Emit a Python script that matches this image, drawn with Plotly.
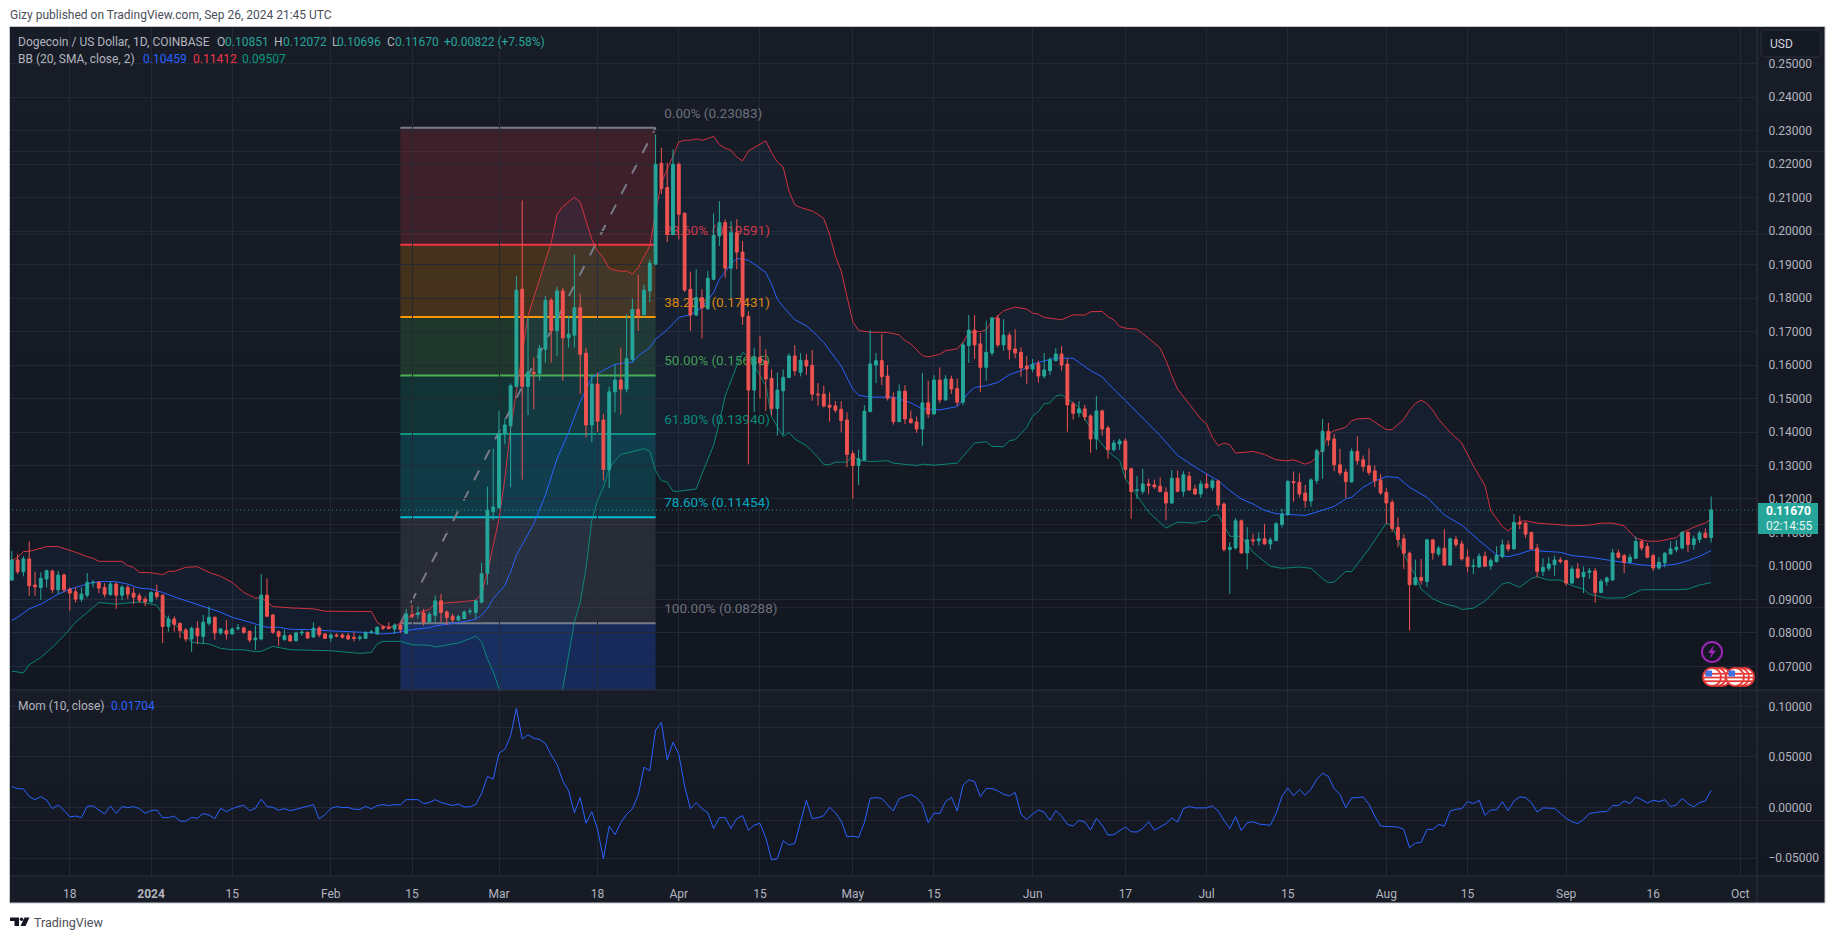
import math
import pandas as pd
import plotly.graph_objects as go

W, H = 1835, 939

# ---------- data ----------
start_date = "2023-12-08"
open_ = [.0958,.1018,.0983,.1021,.0943,.0936,.0961,.0985,.0929,.0973,
.0931,.0923,.0901,.0913,.0950,.0951,.0936,.0915,.0946,.0913,
.0936,.0919,.0911,.0901,.0893,.0921,.0913,.0819,.0842,.0829,
.0809,.0782,.0814,.0790,.0829,.0847,.0800,.0807,.0797,.0814,
.0815,.0805,.0780,.0782,.0913,.0854,.0804,.0780,.0792,.0777,
.0800,.0802,.0788,.0815,.0797,.0785,.0794,.0794,.0792,.0787,
.0784,.0784,.0801,.0797,.0818,.0817,.0812,.0824,.0799,.0854,
.0855,.0860,.0833,.0853,.0896,.0863,.0850,.0839,.0843,.0864,
.0861,.0892,.0978,.1163,.1174,.1396,.1419,.1536,.1826,.1536,
.1578,.1575,.1647,.1793,.1702,.1821,.1681,.1689,.1771,.1635,
.1421,.1543,.1436,.1287,.1520,.1555,.1528,.1617,.1766,.1751,
.1821,.1901,.2202,.2130,.1990,.2199,.2053,.1826,.1749,.1801,
.1768,.1856,.1985,.2025,.1889,.1995,.1937,.1745,.1525,.1622,
.1612,.1560,.1470,.1523,.1563,.1627,.1578,.1614,.1599,.1513,
.1513,.1480,.1478,.1468,.1436,.1335,.1300,.1316,.1461,.1600,
.1613,.1567,.1502,.1431,.1522,.1439,.1430,.1409,.1487,.1454,
.1555,.1496,.1558,.1530,.1489,.1658,.1704,.1663,.1593,.1636,
.1740,.1660,.1689,.1648,.1638,.1597,.1588,.1604,.1567,.1583,
.1613,.1633,.1603,.1484,.1457,.1469,.1448,.1379,.1463,.1412,
.1347,.1364,.1373,.1290,.1225,.1223,.1245,.1242,.1238,.1220,
.1188,.1262,.1223,.1268,.1230,.1215,.1245,.1234,.1254,.1185,
.1049,.1054,.1135,.1039,.1078,.1075,.1081,.1066,.1076,.1124,
.1153,.1252,.1250,.1218,.1194,.1255,.1342,.1402,.1379,.1302,
.1280,.1251,.1342,.1317,.1299,.1284,.1256,.1220,.1190,.1115,
.1081,.1038,.0944,.0966,.0954,.1078,.1036,.1053,.1003,.1079,
.1066,.1026,.0999,.0997,.1029,.1000,.1013,.1028,.1063,.1051,
.1130,.1128,.1100,.1053,.0984,.0993,.1004,.1018,.1016,.0949,
.0991,.0968,.0981,.0985,.0921,.0953,.0958,.1039,.1031,.1011,
.1023,.1073,.1058,.1031,.0994,.1009,.1036,.1049,.1054,.1100,
.1064,.1079,.1098,.10851]
high = [.1045,.1035,.1029,.1073,.0983,.0981,.0989,.0989,.0986,.0978,
.0936,.0936,.0936,.0979,.0958,.0955,.0949,.0953,.0951,.0943,
.0943,.0936,.0919,.0909,.0924,.0944,.0915,.0852,.0850,.0829,
.0815,.0819,.0835,.0854,.0879,.0849,.0814,.0839,.0817,.0827,
.0819,.0807,.0822,.0976,.0963,.0857,.0807,.0810,.0797,.0804,
.0810,.0804,.0832,.0820,.0800,.0800,.0799,.0799,.0800,.0802,
.0794,.0804,.0809,.0820,.0824,.0832,.0829,.0828,.0872,.0884,
.0880,.0872,.0863,.0912,.0917,.0867,.0857,.0855,.0867,.0873,
.0900,.1010,.1237,.1350,.1464,.1440,.1545,.1866,.2091,.1742,
.1622,.1660,.1806,.1800,.1833,.1830,.1747,.1930,.1813,.1652,
.1573,.1577,.1454,.1535,.1602,.1652,.1752,.1799,.1869,.1840,
.1915,.2288,.2249,.2204,.2244,.2205,.2055,.1878,.1886,.1826,
.1881,.2052,.2089,.2035,.2030,.2035,.1970,.1760,.1652,.1687,
.1647,.1587,.1577,.1587,.1635,.1659,.1635,.1633,.1645,.1546,
.1538,.1518,.1492,.1492,.1459,.1345,.1347,.1480,.1704,.1636,
.1692,.1600,.1518,.1542,.1540,.1464,.1446,.1576,.1553,.1570,
.1593,.1570,.1568,.1560,.1668,.1749,.1749,.1695,.1732,.1744,
.1749,.1737,.1697,.1707,.1653,.1626,.1618,.1613,.1636,.1623,
.1650,.1656,.1620,.1491,.1492,.1481,.1453,.1508,.1467,.1419,
.1376,.1379,.1381,.1294,.1268,.1290,.1260,.1258,.1265,.1235,
.1287,.1285,.1283,.1281,.1242,.1255,.1275,.1260,.1257,.1190,
.1071,.1143,.1139,.1116,.1096,.1100,.1126,.1086,.1131,.1171,
.1257,.1282,.1277,.1242,.1262,.1350,.1439,.1427,.1394,.1350,
.1290,.1351,.1387,.1330,.1351,.1300,.1274,.1232,.1198,.1145,
.1095,.1043,.1019,.1021,.1081,.1081,.1060,.1110,.1085,.1090,
.1076,.1050,.1021,.1038,.1043,.1023,.1059,.1079,.1076,.1155,
.1150,.1132,.1103,.1066,.1023,.1026,.1031,.1026,.1018,.1001,
.1009,.0998,.0994,.0994,.0961,.0969,.1051,.1049,.1036,.1036,
.1088,.1078,.1069,.1036,.1026,.1041,.1073,.1078,.1105,.1105,
.1091,.1105,.1112,.12072]
low = [.0955,.0976,.0969,.0911,.0911,.0899,.0936,.0919,.0916,.0921,
.0867,.0891,.0893,.0906,.0936,.0919,.0906,.0911,.0872,.0898,
.0901,.0886,.0889,.0880,.0891,.0901,.0770,.0804,.0804,.0784,
.0774,.0744,.0767,.0767,.0822,.0780,.0794,.0780,.0797,.0807,
.0797,.0772,.0750,.0778,.0847,.0797,.0762,.0777,.0774,.0774,
.0792,.0782,.0786,.0787,.0782,.0774,.0787,.0784,.0780,.0774,
.0777,.0782,.0797,.0795,.0809,.0810,.0797,.0800,.0797,.0843,
.0843,.0822,.0831,.0833,.0833,.0823,.0831,.0835,.0841,.0855,
.0843,.0888,.0944,.1136,.1170,.1363,.1235,.1534,.1258,.1450,
.1468,.1553,.1607,.1607,.1627,.1553,.1652,.1652,.1513,.1384,
.1370,.1399,.1255,.1232,.1458,.1453,.1518,.1609,.1702,.1742,
.1788,.1898,.2110,.1967,.1987,.1975,.1818,.1702,.1745,.1679,
.1765,.1853,.1955,.1861,.1799,.1886,.1720,.1303,.1459,.1500,
.1463,.1449,.1389,.1391,.1560,.1568,.1566,.1570,.1493,.1478,
.1473,.1431,.1458,.1399,.1295,.1201,.1242,.1314,.1459,.1546,
.1540,.1494,.1422,.1429,.1424,.1425,.1397,.1359,.1442,.1452,
.1487,.1493,.1514,.1477,.1480,.1606,.1618,.1520,.1553,.1628,
.1653,.1643,.1616,.1620,.1565,.1543,.1578,.1548,.1560,.1570,
.1611,.1583,.1401,.1437,.1444,.1434,.1338,.1347,.1389,.1320,
.1342,.1347,.1260,.1141,.1200,.1215,.1215,.1230,.1220,.1136,
.1186,.1220,.1207,.1224,.1212,.1204,.1230,.1225,.1168,.1043,
.0917,.1049,.1036,.0990,.1061,.1061,.1064,.1049,.1074,.1115,
.1149,.1192,.1205,.1174,.1177,.1245,.1260,.1359,.1283,.1270,
.1202,.1249,.1302,.1282,.1271,.1235,.1212,.1125,.1102,.1056,
.0991,.0807,.0942,.0944,.0938,.1019,.1029,.1000,.1000,.1056,
.1016,.0981,.0976,.0995,.0997,.0989,.1011,.1023,.1043,.1050,
.1110,.1083,.1049,.0966,.0970,.0985,.0971,.1008,.0941,.0946,
.0962,.0919,.0962,.0890,.0919,.0941,.0956,.1023,.0979,.1009,
.1021,.1046,.1023,.0986,.0989,.0996,.1035,.1041,.1049,.1041,
.1049,.1069,.1083,.10696]
close = [.1018,.0983,.1021,.0941,.0938,.0963,.0986,.0929,.0973,.0929,
.0919,.0901,.0916,.0951,.0951,.0934,.0916,.0946,.0913,.0937,
.0916,.0907,.0898,.0893,.0921,.0909,.0819,.0842,.0826,.0807,
.0782,.0814,.0792,.0832,.0847,.0800,.0812,.0797,.0812,.0815,
.0802,.0779,.0785,.0913,.0850,.0802,.0790,.0792,.0776,.0800,
.0802,.0785,.0814,.0795,.0784,.0794,.0791,.0787,.0782,.0784,
.0787,.0802,.0803,.0817,.0815,.0814,.0824,.0810,.0857,.0850,
.0860,.0833,.0856,.0896,.0861,.0846,.0839,.0849,.0863,.0865,
.0896,.0977,.1166,.1176,.1396,.1421,.1538,.1823,.1536,.1578,
.1575,.1649,.1793,.1702,.1821,.1681,.1692,.1771,.1632,.1421,
.1543,.1432,.1288,.1520,.1555,.1528,.1619,.1766,.1748,.1823,
.1904,.2199,.2127,.1990,.2199,.2050,.1824,.1749,.1801,.1771,
.1859,.1987,.2025,.1889,.1995,.1937,.1745,.1525,.1622,.1607,
.1558,.1470,.1525,.1563,.1627,.1583,.1614,.1597,.1513,.1511,
.1478,.1474,.1465,.1434,.1333,.1300,.1320,.1462,.1603,.1613,
.1565,.1501,.1431,.1522,.1439,.1428,.1409,.1487,.1454,.1555,
.1496,.1558,.1528,.1489,.1660,.1704,.1660,.1593,.1638,.1740,
.1660,.1689,.1646,.1636,.1591,.1588,.1602,.1567,.1585,.1616,
.1633,.1600,.1481,.1456,.1469,.1445,.1379,.1463,.1409,.1347,
.1367,.1373,.1288,.1222,.1227,.1245,.1240,.1236,.1222,.1188,
.1262,.1223,.1272,.1227,.1215,.1245,.1234,.1254,.1182,.1049,
.1056,.1135,.1039,.1078,.1075,.1081,.1066,.1078,.1126,.1155,
.1252,.1249,.1215,.1195,.1257,.1344,.1402,.1376,.1302,.1278,
.1252,.1342,.1314,.1297,.1279,.1254,.1218,.1188,.1112,.1079,
.1038,.0944,.0966,.0956,.1078,.1039,.1053,.1003,.1081,.1064,
.1021,.0999,.1001,.1029,.0999,.1016,.1031,.1063,.1051,.1130,
.1125,.1095,.1051,.0984,.0996,.1006,.1018,.1013,.0949,.0991,
.0966,.0981,.0985,.0921,.0954,.0964,.1039,.1026,.1011,.1026,
.1073,.1054,.1026,.0994,.1011,.1038,.1051,.1056,.1100,.1064,
.1081,.1098,.10848,.11670]

momentum = [.0208,.0188,.0185,.0109,.0079,.0109,.0073,-.0010,.0026,-.0026,
-.0092,-.0083,-.0099,.0013,.0017,-.0026,-.0063,.0017,-.0056,.0010,
0,.0010,-.0010,-.0056,-.0030,-.0023,-.0099,-.0099,-.0083,-.0132,
-.0135,-.0096,-.0106,-.0059,-.0073,-.0109,-.0007,-.0040,-.0010,.0010,
.0023,-.0030,-.0007,.0083,.0010,.0003,-.0026,-.0010,-.0030,-.0017,
-.0003,.0010,.0030,-.0112,-.0069,-.0007,.0010,0,.0003,-.0017,
-.0017,.0013,-.0013,.0020,.0030,.0020,.0030,.0026,.0079,.0079,
.0079,.0040,.0050,.0079,.0050,.0036,.0020,.0036,.0007,.0007,
.0033,.0139,.0307,.0281,.0538,.0574,.0710,.0980,.0677,.0719,
.0686,.0673,.0634,.0518,.0426,.0264,.0165,-.0050,.0099,-.0155,
-.0040,-.0215,-.0505,-.0182,-.0267,-.0149,-.0066,-.0010,.0122,.0399,
.0363,.0766,.0842,.0472,.0644,.0528,.0215,-.0010,.0050,-.0010,
-.0050,-.0208,-.0099,-.0099,-.0205,-.0109,-.0079,-.0224,-.0172,-.0155,
-.0297,-.0515,-.0505,-.0327,-.0370,-.0353,-.0132,.0073,-.0109,-.0099,
-.0079,.0003,-.0050,-.0132,-.0290,-.0281,-.0294,-.0149,.0092,.0099,
.0089,.0033,-.0033,.0089,.0109,.0129,.0099,.0033,-.0149,-.0053,
-.0059,.0059,.0102,-.0033,.0221,.0274,.0257,.0109,.0188,.0188,
.0165,.0132,.0116,.0149,-.0066,-.0116,-.0066,-.0023,-.0046,-.0125,
-.0030,-.0083,-.0165,-.0182,-.0125,-.0142,-.0221,-.0106,-.0175,-.0271,
-.0267,-.0231,-.0191,-.0238,-.0241,-.0205,-.0139,-.0224,-.0191,-.0158,
-.0102,-.0142,-.0010,.0010,-.0003,-.0003,-.0003,.0017,-.0033,-.0125,
-.0208,-.0089,-.0228,-.0149,-.0139,-.0162,-.0172,-.0175,-.0056,.0109,
.0195,.0116,.0178,.0122,.0182,.0281,.0340,.0307,.0188,.0129,
0,.0096,.0099,.0106,.0033,-.0083,-.0182,-.0185,-.0185,-.0191,
-.0215,-.0396,-.0350,-.0343,-.0215,-.0215,-.0165,-.0182,-.0033,-.0017,
-.0010,.0059,.0040,.0073,-.0076,-.0023,-.0023,.0059,-.0030,.0066,
.0106,.0099,.0050,-.0043,-.0003,-.0007,-.0007,-.0056,-.0106,-.0139,
-.0158,-.0116,-.0059,-.0050,-.0040,-.0040,.0020,.0020,.0066,.0040,
.0106,.0079,.0046,.0073,.0059,.0079,.0010,.0026,.0092,.0040,
.0007,.0050,.0066,.01704]

# Bollinger vertices: candle index and value
bb_upper_idx = [0,1,2,3,4,6,8,10,11,13,14,15,19,20,21,22,24,26,27,28,30,32,34,36,38,40,42,43,45,48,52,54,62,63,64,65,66,67,
69,72,73,78,80,81,82,83,84,85,86,89,91,93,94,95,97,98,100,101,102,103,104,105,106,107,108,109,110,111,112,114,115,116,117,118,119,120,121,122,123,124,125,126,127,128,129,130,131,132,133,134,135,136,137,138,139,140,141,142,143,144,145,146,148,
151,153,154,155,157,158,160,161,163,164,165,167,168,169,170,171,173,175,176,177,178,181,183,185,186,188,189,190,191,192,194,196,198,199,200,201,203,205,206,207,208,209,210,211,214,216,218,220,221,223,224,225,226,227,228,230,231,232,234,235,237,238,240,241,242,243,244,245,246,248,250,252,254,255,257,258,260,261,263,267,269,272,274,276,278,280,282,284,287,288,291,292,293]
bb_upper = [.1016,.1026,.1043,.1044,.1048,.1058,.1058,.1048,.1041,.1028,.1023,.1014,.1014,.1001,.0996,.0981,.0980,.0974,.0984,.0984,.0996,.0998,.0981,.0969,.0951,.0921,.0904,.0906,.0879,.0875,.0872,.0865,.0864,.0832,.0820,.0817,.0820,.0830,
.0853,.0871,.0887,.0894,.0898,.0917,.0982,.1061,.1141,.1260,.1409,.1747,.1856,.1965,.2050,.2073,.2101,.2086,.1975,.1940,.1920,.1889,.1883,.1880,.1881,.1871,.1891,.1925,.1955,.2055,.2144,.2224,.2266,.2271,.2271,.2275,.2271,.2276,.2283,.2258,.2247,.2241,.2221,.2209,.2239,.2249,.2260,.2269,.2234,.2206,.2191,.2119,.2078,.2070,.2065,.2060,.2050,.2037,.1990,.1925,.1881,.1806,.1729,.1703,.1698,
.1697,.1690,.1673,.1663,.1628,.1624,.1632,.1643,.1648,.1668,.1697,.1700,.1705,.1732,.1747,.1762,.1773,.1767,.1755,.1752,.1742,.1735,.1750,.1749,.1759,.1760,.1744,.1735,.1715,.1710,.1707,.1680,.1650,.1613,.1568,.1528,.1484,.1439,.1424,.1384,.1359,.1367,.1362,.1337,.1342,.1333,.1317,.1314,.1317,.1304,.1310,.1325,.1350,.1394,.1404,.1414,.1434,.1439,.1441,.1430,.1407,.1407,.1438,.1465,.1485,.1495,.1485,.1465,.1438,.1399,.1367,.1299,.1240,.1165,.1118,.1105,.1133,.1135,.1128,.1123,.1120,.1122,.1128,.1128,.1120,.1083,.1074,.1074,.1085,.1100,.1123,.1128,.11412]

bb_basis_idx = [0,1,3,5,7,8,10,12,14,16,18,20,22,24,26,28,30,32,34,36,38,40,42,44,46,48,52,54,62,64,66,69,72,73,77,80,81,82,83,85,86,87,90,92,94,96,98,100,102,104,106,107,108,110,111,113,115,117,119,121,122,124,125,127,128,130,131,132,133,135,137,138,140,143,145,146,
148,152,155,157,160,163,165,166,168,170,172,174,176,178,180,183,184,186,188,189,192,194,198,201,205,208,210,212,214,216,218,220,223,225,228,230,231,233,235,237,239,241,244,247,250,253,256,258,260,262,264,267,269,272,276,278,281,284,287,289,291,293]
bb_basis = [.0837,.0847,.0872,.0886,.0906,.0916,.0931,.0941,.0951,.0954,.0953,.0946,.0934,.0931,.0921,.0908,.0896,.0886,.0874,.0862,.0847,.0837,.0825,.0817,.0817,.0811,.0810,.0807,.0801,.0797,.0800,.0810,.0816,.0821,.0831,.0841,.0853,.0873,.0902,.0942,.0982,.1032,.1126,.1211,.1320,.1399,.1490,.1563,.1584,.1602,.1607,.1607,.1627,.1652,.1677,.1705,.1742,.1750,.1771,.1816,.1856,.1901,.1918,.1913,.1901,.1876,.1841,.1796,.1774,.1735,.1717,.1702,.1667,.1597,.1528,.1510,
.1504,.1504,.1487,.1469,.1466,.1476,.1518,.1533,.1538,.1548,.1571,.1583,.1603,.1613,.1621,.1620,.1608,.1583,.1565,.1545,.1494,.1459,.1389,.1330,.1285,.1255,.1225,.1200,.1185,.1166,.1156,.1154,.1151,.1161,.1178,.1200,.1205,.1235,.1254,.1267,.1264,.1235,.1205,.1152,.1122,.1076,.1033,.1028,.1036,.1048,.1044,.1041,.1031,.1026,.1016,.1011,.1003,.1000,.1006,.1016,.1029,.10459]

bb_lower_idx = [0,2,3,5,7,9,11,13,15,18,20,22,25,26,27,28,29,31,34,36,38,40,42,43,45,48,52,55,60,62,63,64,67,69,72,73,77,80,81,82,83,84,85,88,92,94,95,97,98,99,100,101,102,103,104,105,109,110,111,112,113,114,115,118,119,120,121,122,123,125,126,127,130,131,133,134,135,137,139,140,141,142,144,145,146,148,
151,152,156,157,159,163,164,166,168,169,171,172,173,175,176,177,178,179,180,181,182,184,185,187,189,191,192,194,196,199,201,204,205,206,207,208,209,210,212,214,217,219,222,224,226,227,228,230,231,234,237,238,240,242,243,245,247,249,250,252,254,257,258,260,262,263,265,267,269,271,272,275,278,280,281,287,289,291,293]
bb_lower = [.0686,.0681,.0705,.0727,.0757,.0792,.0832,.0862,.0891,.0886,.0889,.0893,.0883,.0855,.0842,.0827,.0812,.0772,.0767,.0754,.0750,.0750,.0744,.0745,.0760,.0750,.0749,.0747,.0739,.0742,.0767,.0775,.0775,.0765,.0763,.0758,.0770,.0790,.0773,.0723,.0684,.0634,.0600,.0500,.0520,.0590,.0634,.0833,.0892,.0992,.1136,.1196,.1235,.1290,.1315,.1333,.1350,.1342,.1285,.1255,.1250,.1223,.1223,.1230,.1275,.1320,.1360,.1429,.1508,.1597,.1637,.1627,.1538,.1445,.1386,.1399,.1379,.1359,.1324,.1303,.1302,.1310,.1310,.1330,.1315,.1312,
.1314,.1307,.1300,.1304,.1301,.1307,.1327,.1367,.1371,.1357,.1356,.1374,.1377,.1414,.1447,.1461,.1484,.1487,.1507,.1511,.1499,.1474,.1439,.1384,.1342,.1315,.1260,.1210,.1161,.1113,.1131,.1128,.1133,.1133,.1151,.1153,.1121,.1089,.1088,.1041,.0999,.0993,.0997,.0993,.0962,.0950,.0952,.0984,.0983,.1051,.1128,.1120,.1036,.0971,.0931,.0902,.0887,.0879,.0870,.0874,.0895,.0946,.0951,.0936,.0963,.0968,.0958,.0958,.0941,.0931,.0916,.0904,.0905,.0921,.0929,.0929,.0931,.0943,.09507]

fib_pct = ["0.00%","23.60%","38.20%","50.00%","61.80%","78.60%","100.00%"]
fib_price = [.23083,.19591,.17431,.15685,.13940,.11454,.08288]
fib_start, fib_end = "2024-02-13", "2024-03-28"

x_tick_dates = ["2023-12-18","2024-01-01","2024-01-15","2024-02-01","2024-02-15","2024-03-01","2024-03-18","2024-04-01","2024-04-15","2024-05-01","2024-05-15","2024-06-01","2024-06-17","2024-07-01","2024-07-15","2024-08-01","2024-08-15","2024-09-01","2024-09-16","2024-10-01"]
x_tick_text = ["18","<b>2024</b>","15","Feb","15","Mar","18","Apr","15","May","15","Jun","17","Jul","15","Aug","15","Sep","16","Oct"]
price_ticks = [.07,.08,.09,.10,.11,.12,.13,.14,.15,.16,.17,.18,.19,.20,.21,.22,.23,.24,.25]
mom_ticks = [-.05,0,.05,.10]
last_price = .11670
# -------------------------------------------------

for s in (open_, high, low, close, momentum):
    assert len(s) == 294, len(s)
assert len(bb_upper) == len(bb_upper_idx), (len(bb_upper), len(bb_upper_idx))
assert len(bb_basis) == len(bb_basis_idx), (len(bb_basis), len(bb_basis_idx))
assert len(bb_lower) == len(bb_lower_idx), (len(bb_lower), len(bb_lower_idx))

dates = pd.date_range(start_date, periods=len(close), freq="D")
def at(idx):
    return [dates[i] for i in idx]

FONT = "Roboto, sans-serif"
TXT = "#b2b5be"
UP, DOWN = "#26a69a", "#ef5350"
GRID = "#242833"
SEP = "#2e323e"

px = lambda x: x / W
py = lambda y: 1 - y / H

X_L, X_R = 10, 1757
MAIN_T, MAIN_B = 27, 690
MOM_B, FRAME_B = 876, 903
FRAME_R = 1825
MAIN_RANGE = [.06298, .2609]
MOM_RANGE = [-.0675, .1161]

shapes = []
def mix(t):
    a, b = (24, 28, 39), (19, 23, 34)
    return "rgb(%d,%d,%d)" % tuple(round(a[i] + (b[i] - a[i]) * t) for i in range(3))

def gradient(y0, y1, x0=X_L, x1=FRAME_R, n=16):
    for i in range(n):
        ya = y0 + (y1 - y0) * i / n
        yb = y0 + (y1 - y0) * (i + 1) / n + 0.5
        shapes.append(dict(type="rect", xref="paper", yref="paper", layer="below",
                           x0=px(x0), x1=px(x1), y0=py(ya), y1=py(yb),
                           fillcolor=mix(i / (n - 1)), line_width=0))

gradient(MAIN_T, MAIN_B)
gradient(MAIN_B, MOM_B, n=10)
shapes.append(dict(type="rect", xref="paper", yref="paper", layer="below",
                   x0=px(X_L), x1=px(FRAME_R), y0=py(MOM_B), y1=py(FRAME_B),
                   fillcolor="#171b26", line_width=0))

# fib zones
zone_fill = ["rgba(242,54,69,.18)", "rgba(255,152,0,.2)", "rgba(76,175,80,.2)", "rgba(8,153,129,.2)",
             "rgba(0,188,212,.2)", "rgba(120,123,134,.2)", "rgba(41,98,255,.25)"]
level_col = ["#787b86", "#f23645", "#ff9800", "#4caf50", "#089981", "#00bcd4", "#787b86"]
edges = fib_price + [0.0]
for i, c in enumerate(zone_fill):
    shapes.append(dict(type="rect", xref="x", yref="y", layer="below", x0=fib_start, x1=fib_end,
                       y0=edges[i], y1=edges[i + 1], fillcolor=c, line_width=0))
for p, c in zip(fib_price, level_col):
    shapes.append(dict(type="line", xref="x", yref="y", layer="below", x0=fib_start, x1=fib_end,
                       y0=p, y1=p, line=dict(color=c, width=2)))
shapes.append(dict(type="line", xref="x", yref="y", layer="below", x0=fib_start, x1=fib_end,
                   y0=fib_price[-1], y1=fib_price[0], line=dict(color="#787b86", width=2, dash="11px,12px")))
shapes.append(dict(type="line", xref="x", yref="y", layer="below", x0=dates[0] - pd.Timedelta(days=2),
                   x1="2024-10-04", y0=last_price, y1=last_price,
                   line=dict(color=UP, width=1, dash="1px,3px")))

# separators and frame
for seg_ in [(X_L, MAIN_B, FRAME_R, MAIN_B), (X_L, MOM_B, FRAME_R, MOM_B), (X_R, MAIN_T, X_R, FRAME_B)]:
    shapes.append(dict(type="line", xref="paper", yref="paper", x0=px(seg_[0]), y0=py(seg_[1]),
                       x1=px(seg_[2]), y1=py(seg_[3]), line=dict(color=SEP, width=1)))
shapes.append(dict(type="rect", xref="paper", yref="paper", x0=px(X_L - .5), x1=px(FRAME_R),
                   y0=py(MAIN_T - .5), y1=py(FRAME_B), line=dict(color="#c3c6cd", width=1)))

# USD button
def rrect(x0, y0, x1, y1, r):
    X = lambda v: px(v)
    Y = lambda v: py(v)
    return (f"M {X(x0+r)} {Y(y0)} L {X(x1-r)} {Y(y0)} Q {X(x1)} {Y(y0)} {X(x1)} {Y(y0+r)} "
            f"L {X(x1)} {Y(y1-r)} Q {X(x1)} {Y(y1)} {X(x1-r)} {Y(y1)} L {X(x0+r)} {Y(y1)} "
            f"Q {X(x0)} {Y(y1)} {X(x0)} {Y(y1-r)} L {X(x0)} {Y(y0+r)} Q {X(x0)} {Y(y0)} {X(x0+r)} {Y(y0)} Z")
shapes.append(dict(type="path", xref="paper", yref="paper", path=rrect(1761, 30, 1821, 57, 5),
                   fillcolor="#151924", line=dict(color="#2a2e39", width=1)))

# last price tag
shapes.append(dict(type="rect", xref="paper", yref="paper", x0=px(1758), x1=px(1818), y0=py(503), y1=py(534),
                   fillcolor=UP, line_width=0))

# event icons
def circle(cx, cy, r, fill, color, width=2):
    return dict(type="circle", xref="paper", yref="paper", x0=px(cx - r), x1=px(cx + r), y0=py(cy - r), y1=py(cy + r),
                fillcolor=fill, line=dict(color=color, width=width))
def seg(x0, y0, x1, y1, color, width):
    return dict(type="line", xref="paper", yref="paper", x0=px(x0), x1=px(x1), y0=py(y0), y1=py(y1),
                line=dict(color=color, width=width))
shapes.append(circle(1712, 652, 10, "#131722", "#9c27b0"))
bolt = [(1714, 645), (1708, 653), (1711.5, 653), (1709.5, 659), (1716, 650.5), (1712.5, 650.5)]
shapes.append(dict(type="path", xref="paper", yref="paper", fillcolor="#9c27b0", line_width=0,
                   path="M " + " L ".join(f"{px(a)} {py(b)}" for a, b in bolt) + " Z"))
def flag(cx, cy, r=9):
    out = [circle(cx, cy, r, "#ffffff", "#e53935")]
    for dy in (-3.2, 0.5, 4.2):
        hw = math.sqrt(max(r * r - dy * dy, 0)) - 1
        out.append(seg(cx - hw, cy + dy, cx + hw, cy + dy, "#e53935", 1.8))
    out.append(dict(type="rect", xref="paper", yref="paper", x0=px(cx - 6.5), x1=px(cx), y0=py(cy - 6.5), y1=py(cy - 0.5),
                    fillcolor="#3f6fe0", line_width=0))
    return out
for cx in (1722, 1717, 1745, 1740, 1712, 1735):
    shapes += flag(cx, 677)

# TradingView logo mark
shapes.append(dict(type="path", xref="paper", yref="paper", fillcolor="#131722", line_width=0,
                   path="M " + " L ".join(f"{px(a)} {py(b)}" for a, b in [(10, 917.5), (19, 917.5), (19, 926), (14.5, 926), (14.5, 921), (10, 921)]) + " Z"))
shapes.append(circle(21.5, 919.2, 1.7, "#131722", "#131722", 0))
shapes.append(dict(type="path", xref="paper", yref="paper", fillcolor="#131722", line_width=0,
                   path="M " + " L ".join(f"{px(a)} {py(b)}" for a, b in [(24.5, 917.5), (29.5, 917.5), (25.5, 926), (20.5, 926)]) + " Z"))

# ---------- traces ----------
fig = go.Figure()
fib_labels = [f"{a} ({b:.5f})" for a, b in zip(fib_pct, fib_price)]
fib_text_col = ["rgba(120,123,134,.9)", "rgba(242,54,69,.9)", "rgba(255,152,0,.9)", "rgba(76,175,80,.9)",
                "rgba(8,153,129,.9)", "rgba(0,188,212,.9)", "rgba(120,123,134,.9)"]
fig.add_trace(go.Scatter(x=["2024-03-29 12:00"] * 7, y=[p + .0020 for p in fib_price], mode="text",
                         text=fib_labels, textposition="top right",
                         textfont=dict(family=FONT, size=13.5, color=fib_text_col), hoverinfo="skip", showlegend=False))
fig.add_trace(go.Scatter(x=at(bb_upper_idx) + at(bb_lower_idx)[::-1], y=bb_upper + bb_lower[::-1],
                         fill="toself", fillcolor="rgba(33,150,243,.055)", mode="none", hoverinfo="skip", showlegend=False))
fig.add_trace(go.Scatter(x=at(bb_upper_idx), y=bb_upper, mode="lines", line=dict(color="#f23645", width=1), opacity=.85, showlegend=False))
fig.add_trace(go.Scatter(x=at(bb_lower_idx), y=bb_lower, mode="lines", line=dict(color="#089981", width=1), opacity=.85, showlegend=False))
fig.add_trace(go.Scatter(x=at(bb_basis_idx), y=bb_basis, mode="lines", line=dict(color="#2962ff", width=1), showlegend=False))
fig.add_trace(go.Candlestick(x=dates, open=open_, high=high, low=low, close=close, yaxis="y2",
                             increasing=dict(line=dict(color=UP, width=1), fillcolor=UP),
                             decreasing=dict(line=dict(color=DOWN, width=1), fillcolor=DOWN),
                             showlegend=False))
fig.add_trace(go.Scatter(x=dates, y=momentum, yaxis="y3", mode="lines", line=dict(color="#2962ff", width=1), showlegend=False))

# ---------- text ----------
ann = []
def label(x, y, text, color=TXT, size=12, anchor="left"):
    ann.append(dict(xref="paper", yref="paper", x=px(x), y=py(y), text=text, showarrow=False, xanchor=anchor, yanchor="middle",
                    font=dict(family=FONT, size=size, color=color), borderpad=0, borderwidth=0))
label(10, 14.7, "Gizy published on TradingView.com, Sep 26, 2024 21:45 UTC", "#4a4e59", 12)
L1, L2 = 41.7, 58.7
label(18, L1, "Dogecoin / US Dollar, 1D, COINBASE")
for xp, t in [(217, "O"), (274, "H"), (332, "L"), (387, "C")]:
    label(xp, L1, t)
for xp, t in [(225, "0.10851"), (283, "0.12072"), (337, "0.10696"), (395, "0.11670"), (443.5, "+0.00822 (+7.58%)")]:
    label(xp, L1, t, UP)
label(18, L2, "BB (20, SMA, close, 2)")
label(143, L2, "0.10459", "#2962ff")
label(192.5, L2, "0.11412", "#f23645")
label(241.5, L2, "0.09507", "#089981")
label(18, 706, "Mom (10, close)")
label(110.7, 706, "0.01704", "#2962ff")
label(1770, 44, "USD", "#d1d4dc", 12)
label(1766, 511, "<b>0.11670</b>", "#ffffff", 12)
label(1766, 525.5, "02:14:55", "#e6f4f2", 12)
label(33.5, 922, "TradingView", "#4a4e59", 12.5)

axis_font = dict(family=FONT, size=12, color=TXT)
fig.update_layout(
    width=W, height=H, margin=dict(l=0, r=0, t=0, b=0), autosize=False,
    paper_bgcolor="#ffffff", plot_bgcolor="rgba(0,0,0,0)", showlegend=False, hovermode=False,
    dragmode=False, font=dict(family=FONT), shapes=shapes, annotations=ann,
    xaxis=dict(domain=[px(X_L), px(X_R)], anchor="y3", type="date",
               range=["2023-12-07 16:30", "2024-10-03 21:40"], tickmode="array",
               tickvals=x_tick_dates, ticktext=x_tick_text, tickfont=axis_font, ticks="outside", ticklen=7,
               tickcolor="rgba(0,0,0,0)", showgrid=True, gridcolor=GRID, gridwidth=1, zeroline=False,
               showline=False, rangeslider=dict(visible=False), fixedrange=True),
    yaxis=dict(domain=[py(MAIN_B), py(MAIN_T)], anchor="x", side="right", range=MAIN_RANGE, tickmode="array",
               tickvals=price_ticks, tickformat=".5f", tickfont=axis_font, ticks="outside", ticklen=8,
               tickcolor="rgba(0,0,0,0)", showgrid=True, gridcolor=GRID, zeroline=False, showline=False, fixedrange=True),
    yaxis2=dict(overlaying="y", anchor="x", side="right", range=MAIN_RANGE, visible=False, fixedrange=True),
    yaxis3=dict(domain=[py(MOM_B), py(MAIN_B)], anchor="x", side="right", range=MOM_RANGE, tickmode="array",
                tickvals=mom_ticks, tickformat=".5f", tickfont=axis_font, ticks="outside", ticklen=8,
                tickcolor="rgba(0,0,0,0)", showgrid=True, gridcolor=GRID, zeroline=False, showline=False, fixedrange=True),
)

fig.write_html("out.html", config=dict(displayModeBar=False), post_script="document.body.style.margin='0';")
